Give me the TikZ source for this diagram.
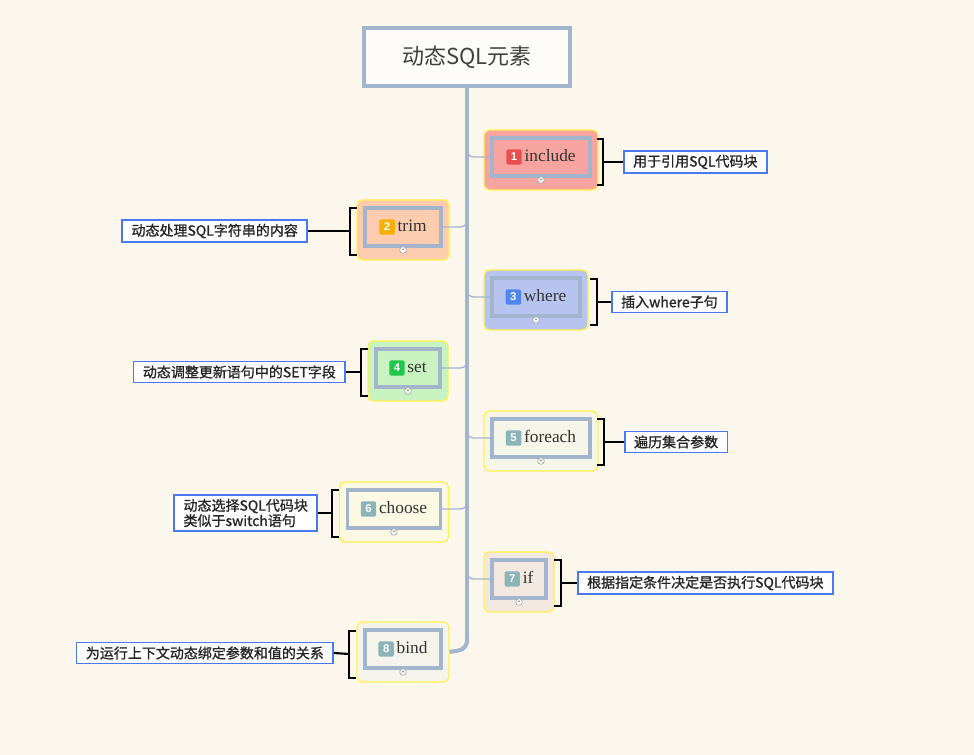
\documentclass[tikz,border=0pt]{standalone}
\usepackage{fontspec}
\setmainfont{Liberation Serif}
\newfontfamily\cjk{Noto Sans CJK SC}
\newfontfamily\cjkb[FakeBold=1.2]{Noto Sans CJK SC}
\newfontfamily\badgefont{Liberation Sans}
\definecolor{bg}{HTML}{FBF7ED}
\definecolor{trunkc}{HTML}{A3B5CC}
\definecolor{notec}{HTML}{4A78F0}
\definecolor{yel}{HTML}{FFF34D}
\definecolor{fa}{HTML}{F7A4A0}\definecolor{ba}{HTML}{E85050}
\definecolor{fb}{HTML}{FDCBAE}\definecolor{bb}{HTML}{F8B000}
\definecolor{fc}{HTML}{B8C4F0}\definecolor{bc}{HTML}{4F86F0}
\definecolor{fd}{HTML}{C8F2C0}\definecolor{bd}{HTML}{1FC84A}
\definecolor{fe}{HTML}{F5F5EA}\definecolor{bgr}{HTML}{8AB4B8}
\definecolor{ff}{HTML}{FBF8E4}
\definecolor{fg}{HTML}{F2E8E0}
\definecolor{fh}{HTML}{F4F4EC}
\tikzset{
  outerbox/.style={draw=yel, line width=1pt, rounded corners=4pt, minimum height=45pt, inner sep=0pt},
  innerbox/.style={draw=trunkc, line width=2.6pt, fill=none, minimum height=28.5pt, inner sep=0pt, font=\fontsize{13}{15}\selectfont, text=black!80},
  notebox/.style={draw=notec, line width=1.2pt, fill=white, inner xsep=7pt, inner ysep=3pt, font=\cjkb\fontsize{10.5}{11.5}\selectfont, align=left, text=black!85},
  branch/.style={draw=trunkc, line width=1pt, rounded corners=5pt},
  brk/.style={draw=black, line width=1.6pt},
  plusc/.style={circle, draw=gray!70, fill=white, inner sep=0pt, minimum size=5pt, line width=0.5pt}
}
\newcommand\badge[2]{\tikz[baseline=-3.5pt]\node[fill=#1, rounded corners=1.5pt, text=white, font=\badgefont\bfseries\fontsize{8.5}{8.5}\selectfont, minimum size=11.5pt, inner sep=0pt]{#2};}
% name, cx, cy, inner width px, fill, badge colour, number, label
\newcommand\mytopic[8]{%
  \node[outerbox, fill=#5, minimum width={(#4+16)*0.75pt}] (#1o) at (#2,#3+3) {};
  \node[innerbox, minimum width={#4*0.75pt}] (#1) at (#2,#3) {\badge{#6}{#7}\,#8};
  \node[plusc] (#1p) at (#2,#3+23) {};
  \node[font=\fontsize{4}{4}\selectfont, inner sep=0pt] at (#1p) {+};
}
\begin{document}
\begin{tikzpicture}[x=0.75pt, y=-0.75pt]
\fill[bg] (0,0) rectangle (974,755);
\useasboundingbox (0,0) rectangle (974,755);
% root
\node[draw=trunkc, line width=3pt, fill=white!60!bg, minimum width=154pt, minimum height=43pt, font=\cjk\fontsize{16.5}{18}\selectfont, text=black!75] (root) at (467,57) {动态SQL元素};
% topics
\mytopic{t1}{541}{157}{98}{fa}{ba}{1}{include}
\mytopic{t2}{403}{227}{76}{fb}{bb}{2}{trim}
\mytopic{t3}{536}{297}{88}{fc}{bc}{3}{where}
\mytopic{t4}{408}{368}{64}{fd}{bd}{4}{set}
\mytopic{t5}{541}{438}{98}{fe}{bgr}{5}{foreach}
\mytopic{t6}{394}{509}{93}{ff}{bgr}{6}{choose}
\mytopic{t7}{519}{579}{54}{fg}{bgr}{7}{if}
\mytopic{t8}{403}{649}{76}{fh}{bgr}{8}{bind}
% trunk
\coordinate (tb) at (467,638);
\draw[trunkc, line width=3pt] (root.south) -- (tb);
\draw[branch] (467,145) |- (t1.west);
\draw[branch] (467,215) |- (t2.east);
\draw[branch] (467,285) |- (t3.west);
\draw[branch] (467,356) |- (t4.east);
\draw[branch] (467,426) |- (t5.west);
\draw[branch] (467,497) |- (t6.east);
\draw[branch] (467,567) |- (t7.west);
\draw[trunkc, line width=3pt, rounded corners=6pt] (tb) -- (467,649) -- (t8o.east);
% notes
\node[notebox, anchor=west] (n1) at (623,162) {用于引用SQL代码块};
\node[notebox, anchor=east] (n2) at (308,231) {动态处理SQL字符串的内容};
\node[notebox, anchor=west] (n3) at (611,302) {插入where子句};
\node[notebox, anchor=east] (n4) at (346,372) {动态调整更新语句中的SET字段};
\node[notebox, anchor=west] (n5) at (624,442) {遍历集合参数};
\node[notebox, anchor=east] (n6) at (318,513) {动态选择SQL代码块\\类似于switch语句};
\node[notebox, anchor=west] (n7) at (577,583) {根据指定条件决定是否执行SQL代码块};
\node[notebox, anchor=east] (n8) at (334,653) {为运行上下文动态绑定参数和值的关系};
% brackets
\draw[brk] (597,139) -- (603,139) -- (603,185) -- (597,185);
\draw[brk] (603,162) -- (n1.west);
\draw[brk] (357,208) -- (350,208) -- (350,255) -- (357,255);
\draw[brk] (350,231) -- (n2.east);
\draw[brk] (590,279) -- (597,279) -- (597,325) -- (590,325);
\draw[brk] (597,302) -- (n3.west);
\draw[brk] (368,349) -- (361,349) -- (361,396) -- (368,396);
\draw[brk] (361,372) -- (n4.east);
\draw[brk] (597,419) -- (604,419) -- (604,465) -- (597,465);
\draw[brk] (604,442) -- (n5.west);
\draw[brk] (339,490) -- (332,490) -- (332,537) -- (339,537);
\draw[brk] (332,513) -- (n6.east);
\draw[brk] (554,560) -- (561,560) -- (561,606) -- (554,606);
\draw[brk] (561,583) -- (n7.west);
\draw[brk] (356,631) -- (349,631) -- (349,678) -- (356,678);
\draw[brk] (349,654) -- (n8.east);
\end{tikzpicture}
\end{document}
